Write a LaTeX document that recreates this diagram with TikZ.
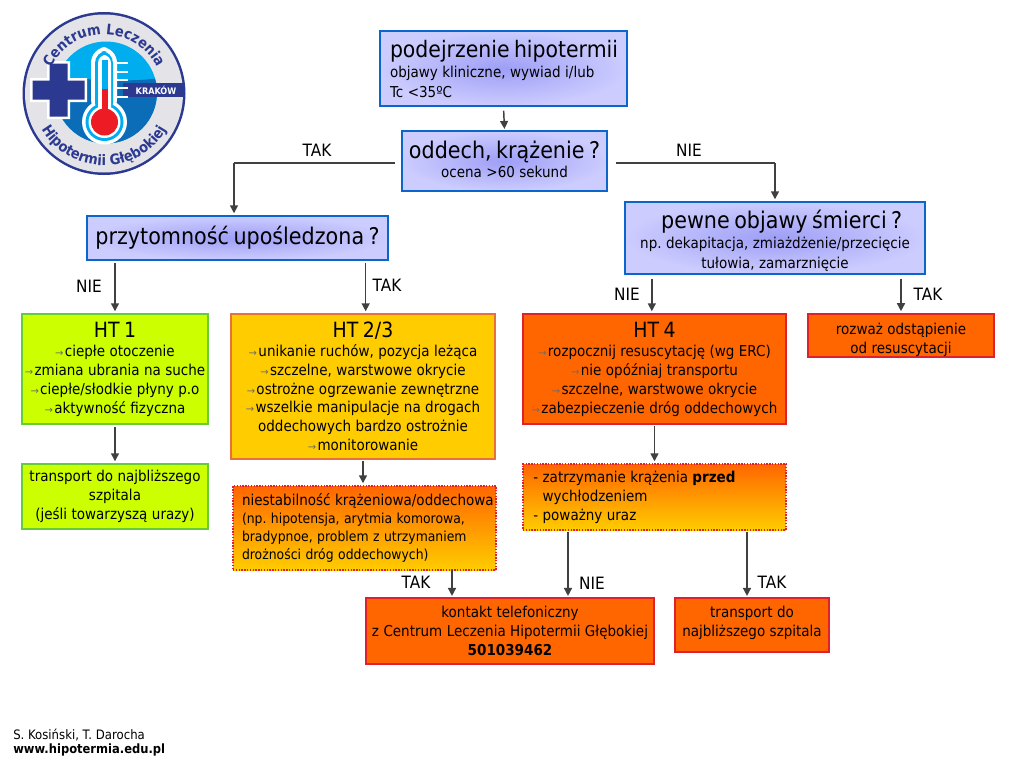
\documentclass[tikz,border=0pt]{standalone}
\usepackage{fontspec}
\usetikzlibrary{arrows.meta,decorations.text,calc}
\setmainfont{DejaVu Sans}[FakeStretch=0.9]
\newfontfamily\arrowfont{DejaVu Sans}
\definecolor{bordblue}{HTML}{0A66CC}
\definecolor{blueout}{HTML}{CCCCFF}
\definecolor{bluein}{HTML}{9E9EF6}
\definecolor{htgreen}{HTML}{CCFF00}
\definecolor{bordgreen}{HTML}{66CC33}
\definecolor{htyellow}{HTML}{FFCC00}
\definecolor{htorange}{HTML}{FF6600}
\definecolor{bordred}{HTML}{E0202A}
\definecolor{bordor}{HTML}{E8703A}
\definecolor{navy}{HTML}{2B3990}
\definecolor{skyb}{HTML}{00AEEF}
\definecolor{deepb}{HTML}{0B6DB7}
\definecolor{ringg}{HTML}{E4E4E8}
\definecolor{redb}{HTML}{ED1C24}
\definecolor{conn}{HTML}{404040}
\newcommand{\px}[2]{\fontsize{\dimexpr#1pt*3/4\relax}{\dimexpr#2pt*3/4\relax}\selectfont}
\newcommand{\bul}{{\arrowfont\px{10}{10}\textcolor{gray!85!black}{→}}\hspace{1pt}}
\newcommand{\bx}[7]{\node[text width={(#5-#3-2)*0.75pt},#2,minimum width={(#5-#3)*0.75pt},minimum height={(#6-#4)*0.75pt}] (#1) at ({(#3+#5)/2},{(#4+#6)/2}) {#7};}
\tikzset{
 x=0.75pt,y=-0.75pt,
 basebox/.style={inner sep=0pt,line width=1.1pt,align=center,text=black,execute at begin node={\parindent=0pt\frenchspacing\hyphenpenalty=10000\hbadness=10000\hfuzz=50pt}},
 bluebox/.style={basebox,draw=bordblue,inner color=bluein,outer color=blueout},
 greenbox/.style={basebox,draw=bordgreen,fill=htgreen},
 yellowbox/.style={basebox,draw=bordor,fill=htyellow},
 orangebox/.style={basebox,draw=bordred,fill=htorange},
 gradbox/.style={basebox,draw=bordred,densely dotted,top color=htorange,bottom color=htyellow},
 arrowline/.style={draw=conn,line width=1.1pt,-{Triangle[length=6pt,width=6pt]}},
 plainline/.style={draw=conn,line width=1.1pt},
 lab/.style={inner sep=0pt,font=\px{17}{20}},
}
\begin{document}
\begin{tikzpicture}
\useasboundingbox (0,0) rectangle (1024,768);
\fill[white] (0,0) rectangle (1024,768);
% ---------- logo
\fill[navy] (104,93.5) circle (81.5);
\fill[ringg] (104,93.5) circle (79);
\begin{scope}
 \clip (106,92.5) circle (51);
 \fill[skyb] (50,40) rectangle (160,150);
 \fill[deepb] (50,80) .. controls (80,76) and (120,84) .. (160,78) -- (160,150) -- (50,150) -- cycle;
\end{scope}
\fill[navy] (123,83) rectangle (184.5,97);
\node[inner sep=0pt,text=white,font=\bfseries\px{9}{10}] (krakow) at (156,90.5) {KRAKÓW};
\fill[white] (47,61) rectangle (70,78) (30,78) rectangle (87,102) (47,102) rectangle (70,119);
\fill[navy] (49.5,63.5) rectangle (67.5,80.5) (32.5,80.5) rectangle (84.5,99.5) (49.5,99.5) rectangle (67.5,116.5);
\foreach \yy in {63,72,80,88,97} \fill[white] (116,\yy-1) rectangle (128,\yy+1);
\fill[white,rounded corners=12] (91,47) rectangle (117,115);
\fill[white] (104.5,122) circle (22.5);
\fill[skyb,rounded corners=9] (95,51) rectangle (113,115);
\fill[skyb] (104.5,122) circle (19);
\fill[white,rounded corners=6] (98,55) rectangle (111,115);
\fill[white] (104.5,122) circle (16);
\fill[skyb] (101.5,60) rectangle (107.5,89);
\fill[redb] (101.5,89) rectangle (107.5,115);
\fill[redb] (104.5,122) circle (13.5);
\begin{scope}[shift={(104,93.5)},y=0.75pt]
 \path[decorate,decoration={text along path,text align=center,text={|\color{navy}\bfseries\px{14.5}{15}|Centrum Leczenia}}]
   (158:59) arc (158:22:59);
 \path[decorate,decoration={text along path,text align=center,text={|\color{navy}\bfseries\px{14.5}{15}|Hipotermii Głębokiej}}]
   (208:72) arc (208:332:72);
\end{scope}
% ---------- boxes
\bx{a}{bluebox,align=left,text width=227*0.75pt}{380}{31}{627}{106}{{\px{22.7}{30}\mbox{podejrzenie hipotermii}\par}{\px{15}{20}objawy kliniczne, wywiad i/lub\par Tc <35ºC\par}}
\bx{b}{bluebox}{402}{131}{607}{191}{{\px{23}{30}oddech, krążenie ?\par}{\px{15}{19}ocena >60 sekund\par}\kern 3pt}
\bx{c}{bluebox}{87}{216}{388}{260}{{\px{23}{30}przytomność upośledzona ?\par}}
\bx{d}{bluebox}{625}{202}{925}{274}{{\px{23}{30}\hspace*{10pt}pewne objawy śmierci ?\par}{\px{15}{20}np. dekapitacja, zmiażdżenie/przecięcie\par tułowia, zamarznięcie\par}\kern -4pt}
\bx{e}{greenbox}{22}{314}{208}{424}{{\px{21}{27}HT 1\par}{\px{15}{19}\bul ciepłe otoczenie\par\bul zmiana ubrania na suche\par\bul ciepłe/słodkie płyny p.o\par\bul aktywność fizyczna\par}}
\bx{f}{yellowbox}{231}{314}{495}{459}{{\px{21}{27}HT 2/3\par}{\px{15}{18.8}\bul unikanie ruchów, pozycja leżąca\par\bul szczelne, warstwowe okrycie\par\bul ostrożne ogrzewanie zewnętrzne\par\bul wszelkie manipulacje na drogach\par oddechowych bardzo ostrożnie\par\bul monitorowanie\par}}
\bx{g}{orangebox}{523}{314}{786}{424}{{\px{21}{27}HT 4\par}{\px{15}{19}\bul rozpocznij resuscytację (wg ERC)\par\bul nie opóźniaj transportu\par\bul szczelne, warstwowe okrycie\par\bul zabezpieczenie dróg oddechowych\par}}
\bx{h}{orangebox}{808}{314}{994}{357}{\vskip 1.5pt{\px{15}{19}rozważ odstąpienie\par od resuscytacji\par}}
\bx{i}{greenbox}{22}{464}{208}{529}{{\px{15}{19}transport do najbliższego\par szpitala\par (jeśli towarzyszą urazy)\par}}
\bx{j}{gradbox,align=left,text width=253*0.75pt}{233}{486}{496}{570}{\leftskip=3pt\relax{\px{15}{18}\mbox{niestabilność krążeniowa/oddechowa}\par}{\px{13.8}{18}(np. hipotensja, arytmia komorowa,\par bradypnoe, problem z utrzymaniem\par drożności dróg oddechowych)\par}}
\bx{k}{gradbox,align=left,text width=253*0.75pt}{523}{464}{786}{530}{\leftskip=4pt\relax{\px{15}{19}- zatrzymanie krążenia \textbf{przed}\par\hphantom{- }wychłodzeniem\par- poważny uraz\par}}
\bx{l}{orangebox}{366}{598}{654}{664}{{\px{15}{19}kontakt telefoniczny\par z Centrum Leczenia Hipotermii Głębokiej\par\textbf{501039462}\par}}
\bx{m}{orangebox}{675}{598}{829}{652}{{\px{15}{19}transport do\par najbliższego szpitala\par}\kern 3pt}
% ---------- connectors
\coordinate (bl) at (234,163);
\coordinate (br) at (775,163);
\draw[arrowline,shorten <=3pt,shorten >=1pt] (a.south) -- (b.north);
\draw[plainline] ([xshift=-5pt]b.west |- bl) -- (bl);
\draw[arrowline,shorten >=1.5pt] (bl) -- (bl |- c.north);
\draw[plainline] ([xshift=6pt]b.east |- br) -- (br);
\draw[arrowline,shorten >=1.5pt] (br) -- (br |- d.north);
\draw[arrowline,shorten <=2pt,shorten >=1.5pt] (c.south -| e.north) -- (e.north);
\draw[arrowline,shorten <=2pt,shorten >=1.5pt] ([xshift=2pt]c.south -| f.north) -- ([xshift=2pt]f.north);
\draw[arrowline,shorten <=3pt,shorten >=1.5pt] ([xshift=-2pt]d.south -| g.north) -- ([xshift=-2pt]g.north);
\draw[arrowline,shorten <=3pt,shorten >=1.5pt] (d.south -| h.north) -- (h.north);
\draw[arrowline,shorten <=2pt,shorten >=1.5pt] (e.south) -- (i.north);
\draw[arrowline,shorten <=1pt,shorten >=1.5pt] (f.south) -- (f.south |- j.north);
\draw[arrowline,shorten <=1pt,shorten >=1.5pt] (g.south) -- (g.south |- k.north);
\coordinate (j1) at (452,570);
\coordinate (k1) at (568,532);
\coordinate (k2) at (747,532);
\draw[arrowline,shorten >=1pt] (j1) -- (j1 |- l.north);
\draw[arrowline,shorten >=1pt] (k1) -- (k1 |- l.north);
\draw[arrowline,shorten >=1pt] (k2) -- (k2 |- m.north);
% ---------- labels
\node[lab] (t1) at (317,150) {TAK};
\node[lab] (n1) at (689,150) {NIE};
\node[lab] (n2) at (89,286) {NIE};
\node[lab] (t2) at (387,285) {TAK};
\node[lab] (n3) at (627,294) {NIE};
\node[lab] (t3) at (928,294) {TAK};
\node[lab] (t4) at (416,582) {TAK};
\node[lab] (n4) at (592,583) {NIE};
\node[lab] (t5) at (772,582) {TAK};
\node[inner sep=0pt,anchor=west,font=\px{13}{15}] (f1) at (13,735) {S. Kosiński, T. Darocha};
\node[inner sep=0pt,anchor=west,font=\bfseries\px{12.8}{15}] (f2) at (13,750) {www.hipotermia.edu.pl};
\end{tikzpicture}
\end{document}
